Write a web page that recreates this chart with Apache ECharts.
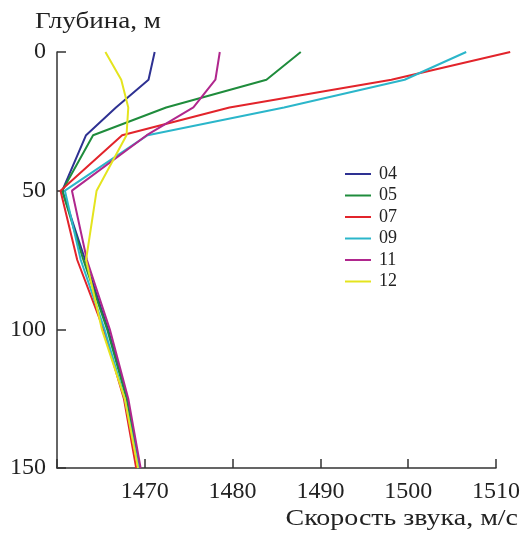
<!DOCTYPE html>
<html>
<head>
<meta charset="utf-8">
<script src="https://cdn.jsdelivr.net/npm/echarts@6/dist/echarts.min.js"></script>
<style>html,body{margin:0;padding:0;background:#fff}#c{width:523px;height:533px}</style>
</head>
<body>
<div id="c"></div>
<script>
var depths = [0, 10, 20, 30, 50, 75, 100, 125, 150];
var seriesNames = ['04', '05', '07', '09', '11', '12'];
var s04 = [1471.1, 1470.4, 1466.7, 1463.3, 1460.6, 1463.2, 1465.8, 1468.0, 1469.3];
var s05 = [1487.7, 1483.8, 1472.4, 1464.1, 1460.6, 1463.0, 1465.7, 1467.9, 1469.3];
var s07 = [1511.5, 1498.0, 1479.6, 1467.4, 1460.4, 1462.3, 1465.3, 1467.6, 1469.0];
var s09 = [1506.5, 1499.5, 1485.8, 1470.3, 1460.9, 1462.7, 1465.4, 1467.7, 1469.3];
var s11 = [1478.5, 1478.0, 1475.5, 1470.2, 1461.7, 1463.4, 1466.0, 1468.1, 1469.5];
var s12 = [1465.5, 1467.3, 1468.1, 1467.9, 1464.5, 1463.3, 1465.1, 1467.7, 1469.2];
var xTicks = [1470, 1480, 1490, 1500, 1510];
var yTicks = [0, 50, 100, 150];
var colors = ['#2e3192', '#1f8c3c', '#e2242b', '#2bb6ca', '#b0278d', '#e4e41e'];
var allData = [s04, s05, s07, s09, s11, s12];

var font = 'Liberation Serif';
var chart = echarts.init(document.getElementById('c'), null, {renderer: 'canvas'});

var xMin = 1460, xMax = 1510, xMaxWide = 1512;
var gridLeft = 57, gridWidth = 440;

var series = allData.map(function (arr, i) {
  return {
    name: seriesNames[i],
    type: 'line',
    xAxisIndex: 1,
    yAxisIndex: 1,
    data: arr.map(function (v, j) { return [v, depths[j]]; }),
    showSymbol: false,
    symbol: 'none',
    clip: false,
    lineStyle: {color: colors[i], width: 2},
    itemStyle: {color: colors[i]},
    z: 2 + i
  };
});
chart.setOption({
  animation: false,
  grid: [
    {left: gridLeft, width: gridWidth, top: 52, bottom: 65},
    {left: gridLeft, width: gridWidth * (xMaxWide - xMin) / (xMax - xMin), top: 52, bottom: 65}
  ],
  legend: {
    orient: 'vertical',
    left: 345,
    top: 165,
    padding: 0,
    itemWidth: 26,
    itemHeight: 2,
    itemGap: 3.5,
    icon: 'rect',
    textStyle: {fontFamily: font, fontSize: 18, lineHeight: 18, color: '#222', padding: [0, 0, 0, 3]},
    data: seriesNames
  },
  xAxis: [{
    type: 'value',
    gridIndex: 0,
    min: xMin,
    max: xMax,
    interval: 10,
    position: 'bottom',
    axisLine: {onZero: false, lineStyle: {color: '#333', width: 1.5}},
    axisTick: {inside: true, length: 9, lineStyle: {color: '#333', width: 1.5}},
    splitLine: {show: false},
    axisLabel: {
      fontFamily: font, fontSize: 24, color: '#222', margin: 12,
      formatter: function (v) { return xTicks.indexOf(v) >= 0 ? String(v) : ''; }
    }
  }, {
    type: 'value',
    gridIndex: 1,
    min: xMin,
    max: xMaxWide,
    show: false,
    splitLine: {show: false}
  }],
  yAxis: [{
    type: 'value',
    gridIndex: 0,
    inverse: true,
    min: 0,
    max: 150,
    interval: 50,
    axisLine: {onZero: false, lineStyle: {color: '#333', width: 1.5}},
    axisTick: {inside: true, length: 9, lineStyle: {color: '#333', width: 1.5}},
    splitLine: {show: false},
    axisLabel: {
      fontFamily: font, fontSize: 24, color: '#222', margin: 11,
      formatter: function (v) { return yTicks.indexOf(v) >= 0 ? String(v) : ''; }
    }
  }, {
    type: 'value',
    gridIndex: 1,
    inverse: true,
    min: 0,
    max: 150,
    show: false,
    splitLine: {show: false}
  }],
  graphic: [
    {type: 'text', x: 35, y: 10, scaleX: 1.13, style: {text: 'Глубина, м', x: 0, y: 0, verticalAlign: 'top', align: 'left', font: '24px "Liberation Serif"', fill: '#222'}},
    {type: 'text', x: 518, y: 507, scaleX: 1.165, style: {text: 'Скорость звука, м/с', x: 0, y: 0, verticalAlign: 'top', align: 'right', font: '24px "Liberation Serif"', fill: '#222'}}
  ],
  series: series
});
</script>
</body>
</html>
